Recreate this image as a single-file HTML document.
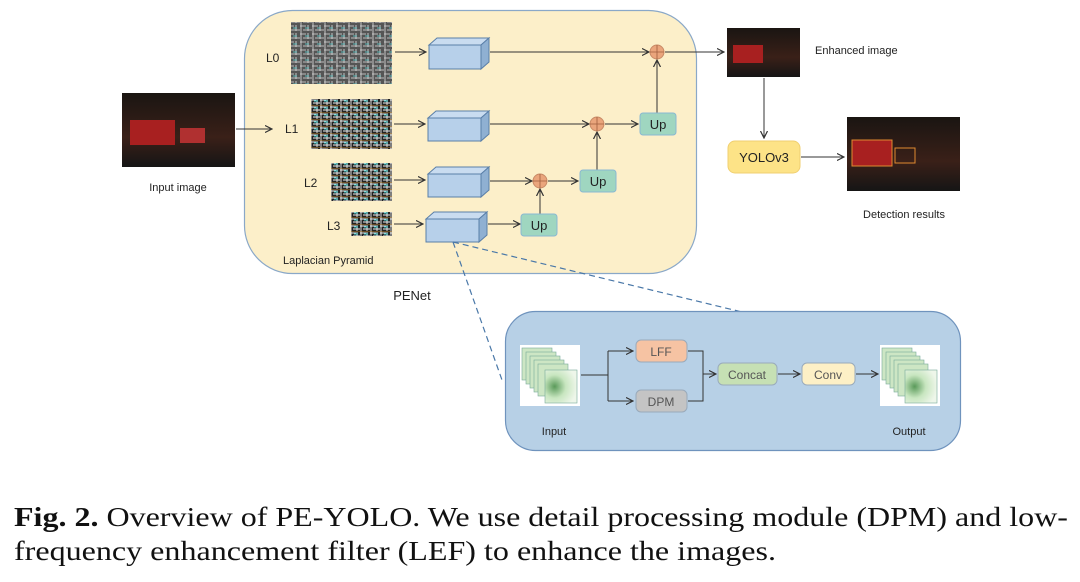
<!DOCTYPE html>
<html><head><meta charset="utf-8"><style>
body{margin:0;background:#fff;width:1080px;height:582px;overflow:hidden}
svg{display:block}
.t{font-family:"Liberation Sans",sans-serif;font-size:12px;fill:#222}
.cap{font-family:"Liberation Serif",serif;font-size:27px;fill:#111}
</style></head><body>
<svg width="1080" height="582" viewBox="0 0 1080 582">
<defs>
<marker id="a" markerWidth="8" markerHeight="8" refX="7" refY="4" orient="auto" markerUnits="userSpaceOnUse"><path d="M0,0.5 L7,4 L0,7.5" fill="none" stroke="#333" stroke-width="1.2"/></marker>
<pattern id="noise" width="12" height="8" patternUnits="userSpaceOnUse"><rect width="12" height="8" fill="#555"/><path d="M0,2h6M3,6h9M1,0v8M8,1v6" stroke="#ddd" stroke-width="0.8"/><path d="M5,4h4" stroke="#5cc" stroke-width="0.8"/></pattern>
<pattern id="noise2" width="10" height="7" patternUnits="userSpaceOnUse"><rect width="10" height="7" fill="#222"/><path d="M0,2h6M3,5h7M1,0v7M7,1v6" stroke="#eee" stroke-width="0.9"/><path d="M4,3h4" stroke="#3dd" stroke-width="0.9"/><path d="M0,0h10" stroke="#c82" stroke-width="0.8"/></pattern>
<linearGradient id="night" x1="0" y1="0" x2="0" y2="1"><stop offset="0" stop-color="#1a1512"/><stop offset="0.6" stop-color="#3a2018"/><stop offset="1" stop-color="#151515"/></linearGradient>
<radialGradient id="heat" cx="0.3" cy="0.5" r="0.7"><stop offset="0" stop-color="#5a9a5a"/><stop offset="0.5" stop-color="#c8e6c0"/><stop offset="1" stop-color="#eef6ea"/></radialGradient>
</defs>
<rect x="244.5" y="10.5" width="452" height="263" rx="48" fill="#fcefc9" stroke="#8aa8c8" stroke-width="1.2"/>
<text class="t" x="266" y="62">L0</text>
<text class="t" x="285" y="133">L1</text>
<text class="t" x="304" y="187">L2</text>
<text class="t" x="327" y="230">L3</text>
<rect x="291" y="22" width="101" height="62" fill="url(#noise)"/>
<rect x="311" y="99" width="81" height="50" fill="url(#noise2)"/>
<rect x="331" y="163" width="61" height="38" fill="url(#noise2)"/>
<rect x="351" y="212" width="41" height="24" fill="url(#noise2)"/>
<text class="t" x="283" y="264" style="font-size:11px">Laplacian Pyramid</text>
<g fill="#b7d0ea" stroke="#5a7fa8" stroke-width="1">
<g transform="translate(429,45)"><rect x="0" y="0" width="52" height="24"/><path d="M0,0 L8,-7 L60,-7 L52,0Z" fill="#c9dcf0"/><path d="M52,0 L60,-7 L60,17 L52,24Z" fill="#8fb0d2"/></g>
<g transform="translate(428,118)"><rect x="0" y="0" width="53" height="23"/><path d="M0,0 L8,-7 L61,-7 L53,0Z" fill="#c9dcf0"/><path d="M53,0 L61,-7 L61,16 L53,23Z" fill="#8fb0d2"/></g>
<g transform="translate(428,174)"><rect x="0" y="0" width="53" height="23"/><path d="M0,0 L8,-7 L61,-7 L53,0Z" fill="#c9dcf0"/><path d="M53,0 L61,-7 L61,16 L53,23Z" fill="#8fb0d2"/></g>
<g transform="translate(426,219)"><rect x="0" y="0" width="53" height="23"/><path d="M0,0 L8,-7 L61,-7 L53,0Z" fill="#c9dcf0"/><path d="M53,0 L61,-7 L61,16 L53,23Z" fill="#8fb0d2"/></g>
</g>
<g stroke="#333" stroke-width="1" fill="none" marker-end="url(#a)">
<path d="M395,52 H426"/><path d="M394,124 H425"/><path d="M394,180 H425"/><path d="M394,224 H423"/>
<path d="M490,52 H649"/><path d="M490,124 H589"/><path d="M490,181 H532"/><path d="M488,224 H520"/>
<path d="M540,214 V189"/><path d="M548,181 H578"/><path d="M597,170 V132"/><path d="M605,124 H638"/><path d="M657,114 V60"/>
<path d="M665,52 H724"/><path d="M236,129 H272"/>
<path d="M764,78 V138"/><path d="M801,157 H844"/>
</g>
<g fill="#eaa57c" stroke="#c88a66" stroke-width="1">
<circle cx="657" cy="52" r="7"/><circle cx="597" cy="124" r="7"/><circle cx="540" cy="181" r="7"/>
</g>
<g stroke="#a05e3e" stroke-width="0.8"><path d="M650,52h14M657,45v14M590,124h14M597,117v14M533,181h14M540,174v14"/></g>
<g fill="#9fd6c0" stroke="#8ab8d2" stroke-width="1">
<rect x="521" y="214" width="36" height="22" rx="3"/><rect x="580" y="170" width="36" height="22" rx="3"/><rect x="640" y="113" width="36" height="22" rx="3"/>
</g>
<g class="t" style="font-size:13px" text-anchor="middle"><text x="539" y="230">Up</text><text x="598" y="186">Up</text><text x="658" y="129">Up</text></g>
<rect x="122" y="93" width="113" height="74" fill="url(#night)"/>
<rect x="130" y="120" width="45" height="25" fill="#a82020"/><rect x="180" y="128" width="25" height="15" fill="#b03030"/>
<text class="t" x="178" y="191" text-anchor="middle" style="font-size:11px">Input image</text>
<rect x="727" y="28" width="73" height="49" fill="url(#night)"/><rect x="733" y="45" width="30" height="18" fill="#a82020"/>
<text class="t" x="815" y="54" style="font-size:11px">Enhanced image</text>
<rect x="728" y="141" width="72" height="32" rx="7" fill="#fde387" stroke="#f0cf70"/>
<text class="t" x="764" y="162" text-anchor="middle" style="font-size:13px">YOLOv3</text>
<rect x="847" y="117" width="113" height="74" fill="url(#night)"/>
<rect x="852" y="140" width="40" height="26" fill="#a82020" stroke="#e08a30"/><rect x="895" y="148" width="20" height="15" fill="none" stroke="#e08a30"/>
<text class="t" x="904" y="218" text-anchor="middle" style="font-size:11px">Detection results</text>
<text class="t" x="412" y="300" text-anchor="middle" style="font-size:13px">PENet</text>
<g stroke="#4a78a8" stroke-width="1.2" stroke-dasharray="6,4" fill="none"><path d="M453,242 L502,380"/><path d="M453,242 L742,312"/></g>
<rect x="505.5" y="311.5" width="455" height="139" rx="30" fill="#b7d0e6" stroke="#6f93bd" stroke-width="1.2"/>
<g>
<rect x="520" y="345" width="60" height="61" fill="#fff"/>
<g stroke="#7a9" stroke-width="0.6"><rect x="522" y="348" width="30" height="32" fill="#cde6c4"/><rect x="526" y="352" width="30" height="32" fill="#cde6c4"/><rect x="530" y="356" width="30" height="32" fill="#cde6c4"/><rect x="534" y="360" width="30" height="32" fill="#cde6c4"/><rect x="538" y="364" width="30" height="32" fill="#cde6c4"/><rect x="545" y="370" width="32" height="33" fill="url(#heat)"/></g>
<rect x="880" y="345" width="60" height="61" fill="#fff"/>
<g stroke="#7a9" stroke-width="0.6"><rect x="882" y="348" width="30" height="32" fill="#cde6c4"/><rect x="886" y="352" width="30" height="32" fill="#cde6c4"/><rect x="890" y="356" width="30" height="32" fill="#cde6c4"/><rect x="894" y="360" width="30" height="32" fill="#cde6c4"/><rect x="898" y="364" width="30" height="32" fill="#cde6c4"/><rect x="905" y="370" width="32" height="33" fill="url(#heat)"/></g>
</g>
<g stroke="#333" stroke-width="1" fill="none">
<path d="M581,375 H608 M608,351 V401"/>
<path d="M608,351 H633" marker-end="url(#a)"/><path d="M608,401 H633" marker-end="url(#a)"/>
<path d="M688,351 H703 V401 H688"/><path d="M703,374 H716" marker-end="url(#a)"/>
<path d="M778,374 H800" marker-end="url(#a)"/><path d="M856,374 H878" marker-end="url(#a)"/>
</g>
<rect x="636" y="340" width="51" height="22" rx="5" fill="#f6c3a3" stroke="#9ab"/>
<rect x="636" y="390" width="51" height="22" rx="5" fill="#c4c4c4" stroke="#9ab"/>
<rect x="718" y="363" width="59" height="22" rx="5" fill="#c6e0b4" stroke="#9ab"/>
<rect x="802" y="363" width="53" height="22" rx="5" fill="#fdf0c6" stroke="#9ab"/>
<g class="t" text-anchor="middle" style="font-size:12px;fill:#555"><text x="661" y="356">LFF</text><text x="661" y="406">DPM</text><text x="747" y="379">Concat</text><text x="828" y="379">Conv</text></g>
<text class="t" x="554" y="435" text-anchor="middle" style="font-size:11px">Input</text>
<text class="t" x="909" y="435" text-anchor="middle" style="font-size:11px">Output</text>
<text class="cap" x="14" y="526" textLength="1054" lengthAdjust="spacingAndGlyphs"><tspan font-weight="bold">Fig. 2.</tspan> Overview of PE-YOLO. We use detail processing module (DPM) and low-</text>
<text class="cap" x="14" y="560" textLength="762" lengthAdjust="spacingAndGlyphs">frequency enhancement filter (LEF) to enhance the images.</text>
</svg>
</body></html>
